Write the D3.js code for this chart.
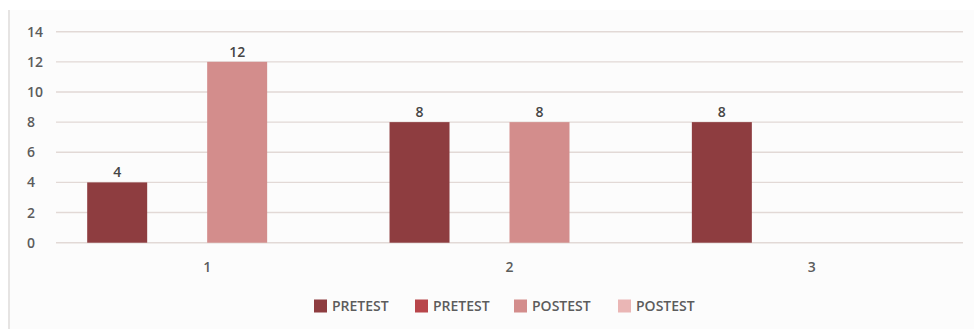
<!DOCTYPE html>
<html>
<head>
<meta charset="utf-8">
<script src="https://cdn.jsdelivr.net/npm/d3@7"></script>
<style>
  html, body { margin: 0; padding: 0; background: #ffffff; }
  svg { display: block; font-family: "Open Sans", "Noto Sans", sans-serif; }
</style>
</head>
<body>
<svg id="chart" width="974" height="329"></svg>
<script>
// Categories along the x axis
const categories = ["1", "2", "3"];

// Series names as shown in the legend
const seriesNames = ["PRETEST", "PRETEST", "POSTEST", "POSTEST"];

// Values per series (null = no bar)
const series1 = [4, 8, 8];
const series2 = [null, null, null];
const series3 = [12, 8, null];
const series4 = [null, null, null];

// Y axis tick values
const yTicks = [0, 2, 4, 6, 8, 10, 12, 14];

const seriesColors = ["#8e3d40", "#b8464b", "#d38d8c", "#eab6b5"];

const seriesValues = [series1, series2, series3, series4];

const svg = d3.select("#chart");
const W = 974, H = 329;
const textColor = "#5c5c5c";

// Chart panel background
svg.append("rect")
  .attr("x", 8).attr("y", 10).attr("width", W - 8).attr("height", H - 10)
  .attr("fill", "#fcfcfc");
svg.append("line")
  .attr("x1", 9).attr("x2", 9).attr("y1", 10).attr("y2", H)
  .attr("stroke", "#e6e4e3").attr("stroke-width", 2);

const plot = { left: 56, right: 963, top: 31.7, bottom: 242.7 };

const x0 = d3.scaleBand()
  .domain(categories)
  .range([plot.left, plot.right])
  .paddingInner(0).paddingOuter(0);

const x1 = d3.scaleBand()
  .domain(d3.range(seriesNames.length))
  .range([0, x0.bandwidth()])
  .paddingInner(0).paddingOuter(0.52);

const y = d3.scaleLinear()
  .domain([0, 14])
  .range([plot.bottom, plot.top]);

// Horizontal gridlines
svg.append("g")
  .selectAll("line")
  .data(yTicks)
  .join("line")
  .attr("x1", plot.left).attr("x2", plot.right)
  .attr("y1", d => y(d)).attr("y2", d => y(d))
  .attr("stroke", "#e2d9d6").attr("stroke-width", 1.4);

// Y axis labels (left-aligned)
const yAxis = d3.axisLeft(y).tickValues(yTicks).tickSize(0).tickPadding(plot.left - 27);
const gy = svg.append("g")
  .attr("transform", `translate(${plot.left},0)`)
  .call(yAxis);
gy.select(".domain").remove();
gy.selectAll("text")
  .attr("text-anchor", "start")
  .attr("x", 27 - plot.left)
  .attr("fill", textColor)
  .style("font-size", "14px")
  .style("font-weight", "600")
  .style("font-family", "'Open Sans', sans-serif");

// X axis labels
const xAxis = d3.axisBottom(x0).tickSize(0).tickPadding(19);
const gx = svg.append("g")
  .attr("transform", `translate(0,${plot.bottom})`)
  .call(xAxis);
gx.select(".domain").remove();
gx.selectAll("text")
  .attr("fill", textColor)
  .style("font-size", "14px")
  .style("font-weight", "600")
  .style("font-family", "'Open Sans', sans-serif");

// Bars
const barData = [];
categories.forEach((c, ci) => {
  seriesValues.forEach((vals, si) => {
    if (vals[ci] != null) barData.push({ cat: c, s: si, v: vals[ci] });
  });
});

const groups = svg.append("g");
groups.selectAll("rect")
  .data(barData)
  .join("rect")
  .attr("x", d => x0(d.cat) + x1(d.s))
  .attr("width", x1.bandwidth())
  .attr("y", d => y(d.v))
  .attr("height", d => y(0) - y(d.v))
  .attr("fill", d => seriesColors[d.s]);

// Data labels
groups.selectAll("text")
  .data(barData)
  .join("text")
  .attr("x", d => x0(d.cat) + x1(d.s) + x1.bandwidth() / 2)
  .attr("y", d => y(d.v) - 5)
  .attr("text-anchor", "middle")
  .attr("fill", "#454545")
  .style("font-size", "14px")
  .style("font-weight", "600")
  .text(d => d.v);

// Legend
const legendItems = seriesNames.map((n, i) => ({ name: n, color: seriesColors[i] }));
const legend = svg.append("g").attr("transform", "translate(0,306)");
const itemX = [314, 415, 514, 618];
const li = legend.selectAll("g")
  .data(legendItems)
  .join("g")
  .attr("transform", (d, i) => `translate(${itemX[i]},0)`);
li.append("rect")
  .attr("x", 0).attr("y", -6.5).attr("width", 13).attr("height", 13)
  .attr("fill", d => d.color);
li.append("text")
  .attr("x", 18).attr("y", 0)
  .attr("dy", "0.35em")
  .attr("fill", textColor)
  .style("font-size", "14px")
  .style("font-weight", "600")
  .text(d => d.name);
</script>
</body>
</html>
